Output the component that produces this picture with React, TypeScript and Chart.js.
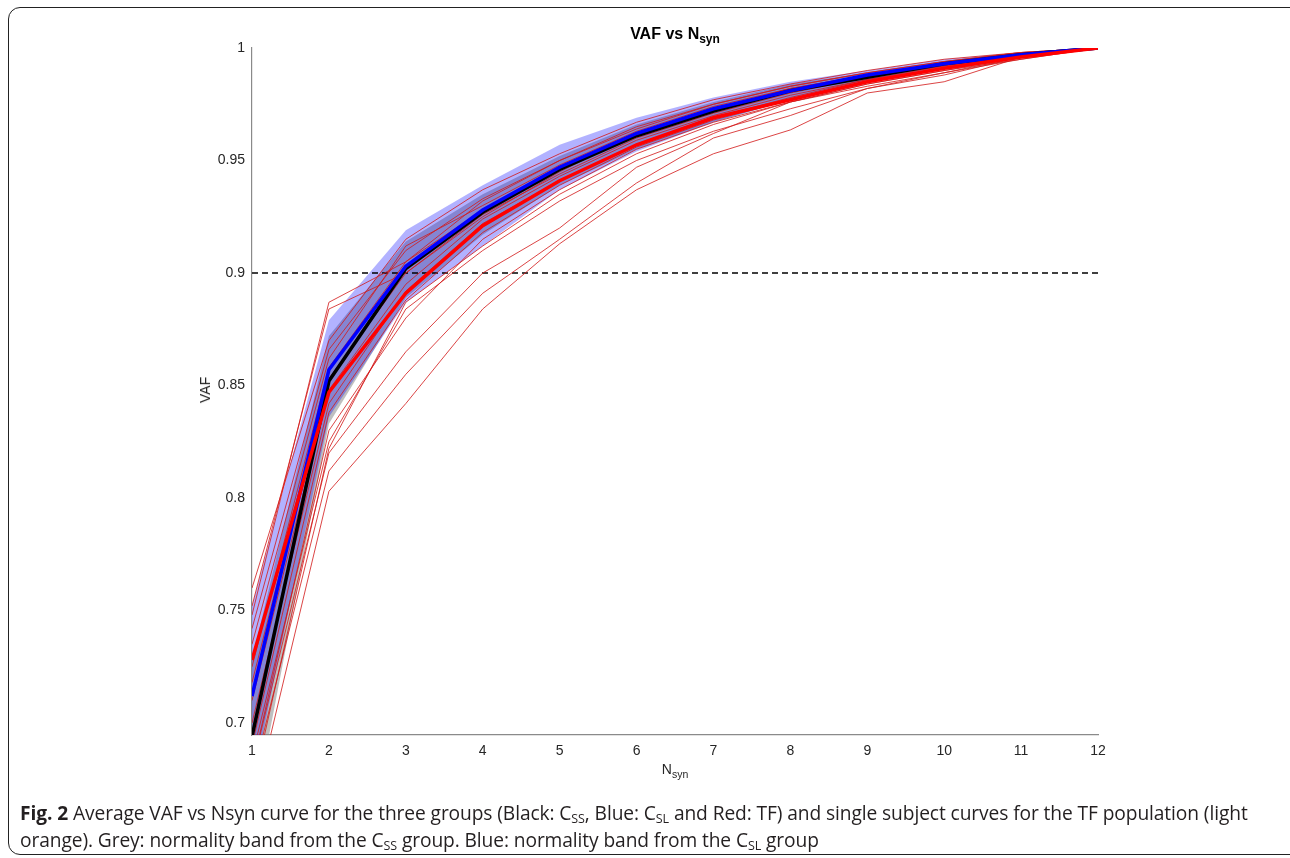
import React, { useEffect, useRef } from "react";
import { Chart, registerables } from "chart.js";

Chart.register(...registerables);

const nSyn = [1, 2, 3, 4, 5, 6, 7, 8, 9, 10, 11, 12];
const xTicks = [1, 2, 3, 4, 5, 6, 7, 8, 9, 10, 11, 12];
const yTicks = [0.7, 0.75, 0.8, 0.85, 0.9, 0.95, 1];
const threshold = 0.9;

// group means
const meanCSS = [0.694, 0.852, 0.902, 0.927, 0.946, 0.961, 0.972, 0.981, 0.987, 0.993, 0.997, 1.0];
const meanCSL = [0.712, 0.857, 0.903, 0.928, 0.947, 0.962, 0.973, 0.981, 0.988, 0.993, 0.997, 1.0];
const meanTF = [0.728, 0.847, 0.891, 0.921, 0.941, 0.957, 0.969, 0.977, 0.985, 0.991, 0.996, 1.0];

// normality bands
const bandCSSUpper = [0.728, 0.872, 0.914, 0.935, 0.952, 0.966, 0.976, 0.984, 0.989, 0.994, 0.998, 1.0];
const bandCSSLower = [0.655, 0.833, 0.889, 0.917, 0.939, 0.955, 0.967, 0.977, 0.985, 0.991, 0.996, 1.0];
const bandCSLUpper = [0.752, 0.879, 0.919, 0.939, 0.957, 0.969, 0.978, 0.985, 0.990, 0.995, 0.998, 1.0];
const bandCSLLower = [0.672, 0.836, 0.887, 0.912, 0.937, 0.954, 0.967, 0.977, 0.985, 0.991, 0.996, 1.0];

// single subject TF curves
const tf01 = [0.748, 0.887, 0.905, 0.932, 0.950, 0.965, 0.975, 0.983, 0.989, 0.994, 0.998, 1];
const tf02 = [0.752, 0.884, 0.900, 0.925, 0.945, 0.962, 0.972, 0.981, 0.988, 0.993, 0.997, 1];
const tf03 = [0.760, 0.870, 0.915, 0.937, 0.953, 0.967, 0.977, 0.984, 0.990, 0.995, 0.998, 1];
const tf04 = [0.742, 0.866, 0.910, 0.933, 0.950, 0.964, 0.975, 0.983, 0.989, 0.994, 0.998, 1];
const tf05 = [0.735, 0.862, 0.912, 0.930, 0.948, 0.963, 0.974, 0.982, 0.988, 0.993, 0.997, 1];
const tf06 = [0.725, 0.858, 0.905, 0.928, 0.946, 0.962, 0.973, 0.982, 0.988, 0.993, 0.997, 1];
const tf07 = [0.718, 0.853, 0.900, 0.926, 0.944, 0.960, 0.971, 0.980, 0.987, 0.992, 0.997, 1];
const tf08 = [0.710, 0.848, 0.895, 0.924, 0.943, 0.959, 0.970, 0.979, 0.986, 0.992, 0.996, 1];
const tf09 = [0.700, 0.842, 0.892, 0.922, 0.941, 0.957, 0.969, 0.978, 0.986, 0.991, 0.996, 1];
const tf10 = [0.690, 0.838, 0.888, 0.918, 0.939, 0.956, 0.968, 0.977, 0.985, 0.991, 0.996, 1];
const tf11 = [0.680, 0.830, 0.880, 0.915, 0.937, 0.955, 0.967, 0.976, 0.984, 0.990, 0.996, 1];
const tf12 = [0.670, 0.822, 0.887, 0.912, 0.935, 0.953, 0.966, 0.976, 0.984, 0.990, 0.995, 1];
const tf13 = [0.675, 0.812, 0.855, 0.891, 0.915, 0.940, 0.960, 0.970, 0.982, 0.988, 0.996, 1];
const tf14 = [0.680, 0.820, 0.865, 0.900, 0.920, 0.947, 0.962, 0.976, 0.983, 0.989, 0.996, 1];
const tf15 = [0.660, 0.803, 0.842, 0.884, 0.913, 0.937, 0.953, 0.9636, 0.980, 0.985, 0.996, 1];
const tf16 = [0.685, 0.825, 0.884, 0.910, 0.932, 0.950, 0.963, 0.973, 0.982, 0.989, 0.995, 1];
const tfSubjects = [tf01, tf02, tf03, tf04, tf05, tf06, tf07, tf08, tf09, tf10, tf11, tf12, tf13, tf14, tf15, tf16];

const pts = (arr: number[]) => arr.map((y, i) => ({ x: nSyn[i], y }));

export default function App() {
  const ref = useRef<HTMLCanvasElement | null>(null);

  useEffect(() => {
    if (!ref.current) return;
    const base = { pointRadius: 0, tension: 0, fill: false as any };
    const datasets: any[] = [
      { ...base, data: pts(meanTF), borderColor: "#ff0000", borderWidth: 3.5, order: 0 },
      { ...base, data: pts(meanCSL), borderColor: "#0000ff", borderWidth: 3.5, order: 1 },
      { ...base, data: pts(meanCSS), borderColor: "#000000", borderWidth: 3.5, order: 2 },
      ...tfSubjects.map((s) => ({ ...base, data: pts(s), borderColor: "rgba(210,25,25,0.9)", borderWidth: 0.9, order: 3 })),
      {
        ...base,
        data: [{ x: nSyn[0], y: threshold }, { x: nSyn[nSyn.length - 1], y: threshold }],
        borderColor: "#000000",
        borderWidth: 1.3,
        borderDash: [6, 4],
        order: 4,
      },
    ];
    const cslIdx = datasets.length;
    datasets.push(
      { ...base, data: pts(bandCSLUpper), borderWidth: 0, borderColor: "rgba(0,0,0,0)", backgroundColor: "rgba(0,0,255,0.3)", fill: cslIdx + 1, order: 5 },
      { ...base, data: pts(bandCSLLower), borderWidth: 0, borderColor: "rgba(0,0,0,0)", order: 5 }
    );
    const cssIdx = datasets.length;
    datasets.push(
      { ...base, data: pts(bandCSSUpper), borderWidth: 0, borderColor: "rgba(0,0,0,0)", backgroundColor: "rgba(128,128,128,0.5)", fill: cssIdx + 1, order: 6 },
      { ...base, data: pts(bandCSSLower), borderWidth: 0, borderColor: "rgba(0,0,0,0)", order: 6 }
    );

    const tickFont = { family: "'Liberation Sans', Arial, sans-serif", size: 14 };
    const chart = new Chart(ref.current, {
      type: "line",
      data: { datasets },
      options: {
        animation: false,
        responsive: true,
        maintainAspectRatio: false,
        layout: { padding: { left: 0, top: 48, right: 192, bottom: 0 } },
        plugins: { legend: { display: false }, tooltip: { enabled: false }, title: { display: false } },
        scales: {
          x: {
            type: "linear",
            min: 1,
            max: 12,
            afterBuildTicks: (s: any) => {
              s.ticks = xTicks.map((v) => ({ value: v }));
            },
            afterFit: (s: any) => {
              s.height = 123;
            },
            grid: { display: false, drawTicks: false },
            border: { display: true, color: "#8a8a8a", width: 1.2 },
            ticks: { color: "#262626", font: tickFont, padding: 8, maxRotation: 0, autoSkip: false },
          },
          y: {
            type: "linear",
            min: 0.6947,
            max: 1.0,
            afterBuildTicks: (s: any) => {
              s.ticks = yTicks.map((v) => ({ value: v }));
            },
            afterFit: (s: any) => {
              s.width = 252;
            },
            grid: { display: false, drawTicks: false },
            border: { display: true, color: "#8a8a8a", width: 1.2 },
            ticks: {
              color: "#262626",
              font: tickFont,
              padding: 7,
              autoSkip: false,
              callback: (v: any) => String(Number(Number(v).toFixed(2))),
            },
          },
        },
      },
    });
    return () => chart.destroy();
  }, []);

  const labelFont = "'Liberation Sans', Arial, Helvetica, sans-serif";
  const capSub = { fontSize: 12.5, verticalAlign: "-3px", lineHeight: 0 } as React.CSSProperties;
  return (
    <div style={{ position: "fixed", left: 0, top: 0, width: 1290, height: 858, overflow: "hidden", background: "#fff" }}>
      <div
        style={{
          position: "absolute",
          left: 8,
          top: 7,
          width: 1320,
          height: 848,
          border: "1.5px solid #222",
          borderRadius: 12,
          boxSizing: "border-box",
        }}
      />
      <canvas ref={ref} style={{ position: "absolute", left: 0, top: 0, width: 1290, height: 858 }} />
      <div
        style={{
          position: "absolute",
          left: 0,
          width: 1350,
          top: 25,
          textAlign: "center",
          fontFamily: labelFont,
          fontWeight: "bold",
          fontSize: 16,
          color: "#000",
        }}
      >
        VAF vs N<sub style={{ fontSize: 12 }}>syn</sub>
      </div>
      <div
        style={{
          position: "absolute",
          left: 0,
          width: 1350,
          top: 761,
          textAlign: "center",
          fontFamily: labelFont,
          fontSize: 14,
          color: "#262626",
        }}
      >
        N<sub style={{ fontSize: 10.5 }}>syn</sub>
      </div>
      <div
        style={{
          position: "absolute",
          left: 205,
          top: 390,
          transform: "translate(-50%, -50%) rotate(-90deg)",
          fontFamily: labelFont,
          fontSize: 14,
          color: "#262626",
        }}
      >
        VAF
      </div>
      <div
        style={{
          position: "absolute",
          left: 20,
          top: 799,
          fontFamily: "'Open Sans', sans-serif",
          fontSize: 19.2,
          lineHeight: "27px",
          color: "#231f20",
          whiteSpace: "nowrap",
          letterSpacing: -0.1,
        }}
      >
        <b>Fig. 2</b> Average VAF vs Nsyn curve for the three groups (Black: C<sub style={capSub}>SS</sub>, Blue: C
        <sub style={capSub}>SL</sub> and Red: TF) and single subject curves for the TF population (light
        <br />
        orange). Grey: normality band from the C<sub style={capSub}>SS</sub> group. Blue: normality band from the C
        <sub style={capSub}>SL</sub> group
      </div>
    </div>
  );
}
